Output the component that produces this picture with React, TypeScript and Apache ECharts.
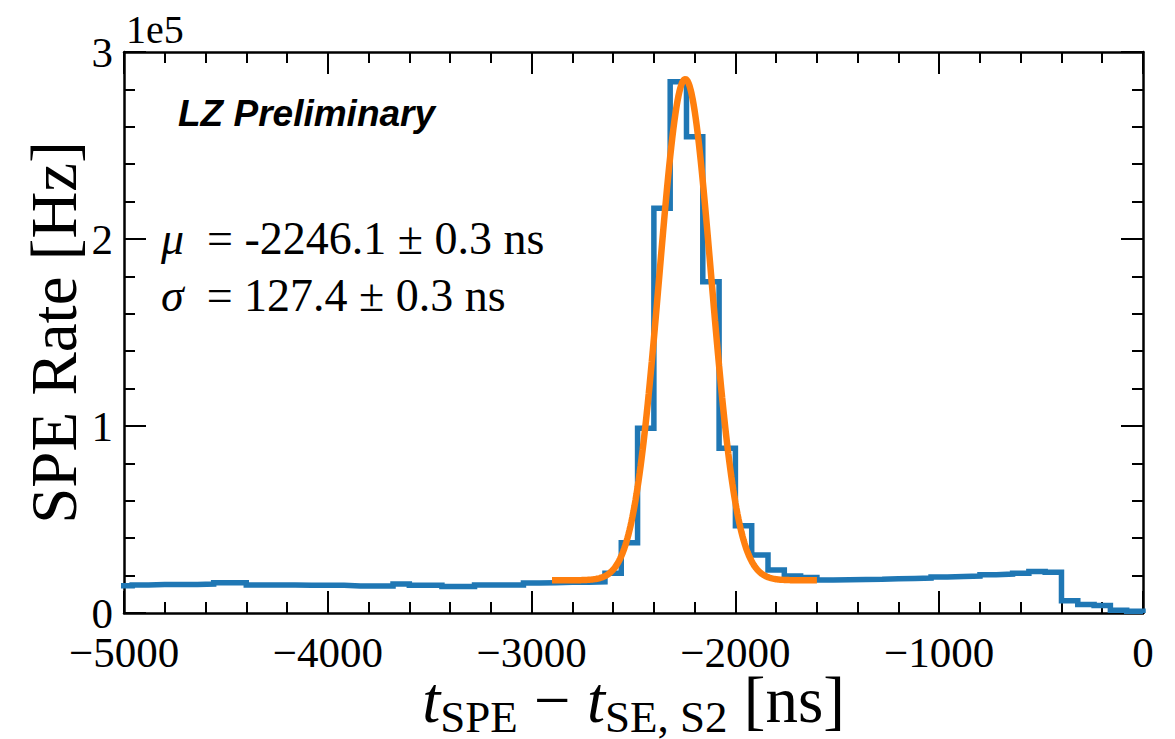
import React, { useEffect, useRef } from "react";
import * as echarts from "echarts";

// Histogram: bins of 80 ns starting at -5040 ns (rates in Hz)
const BIN_START = -5040;
const BIN_WIDTH = 80;
const rates = [
  14600, 15000, 15300, 15300, 15300, 15500, 16200, 16200, 15000, 15000,
  15000, 14800, 14800, 14800, 14500, 14500, 14500, 15500, 14800, 14800,
  14200, 14200, 15000, 15000, 15000, 16000, 16200, 16500, 16500,
  16700, 21200, 37600, 98800, 216400, 284100, 254700, 177200, 88100, 46700,
  31000, 23000, 19800, 19000,
  17700, 17800, 17900, 18000, 18300, 18500, 18700, 19200, 19500, 19800,
  20500, 20800, 21200, 22200, 21800,
  6500, 4500, 4000, 1500, 1000,
];

// Gaussian fit parameters
const MU = -2246.1;
const SIGMA = 127.4;
const AMP = 268000;
const OFFSET = 17500;
const FIT_FROM = -2900;
const FIT_TO = -1600;
const FIT_STEP = 5;

const X_MIN = -5000;
const X_MAX = 0;
const X_INTERVAL = 1000;
const Y_MIN = 0;
const Y_MAX = 300000;
const Y_INTERVAL = 100000;

const SERIF = "'Liberation Serif', 'Times New Roman', serif";
const NB = "\u00a0";

function histPoints(): number[][] {
  const pts: number[][] = [];
  rates.forEach((r, i) => {
    const x0 = BIN_START + i * BIN_WIDTH;
    pts.push([x0, r], [x0 + BIN_WIDTH, r]);
  });
  pts.push([BIN_START + rates.length * BIN_WIDTH, 0]);
  return pts;
}

function fitPoints(): number[][] {
  const pts: number[][] = [];
  for (let x = FIT_FROM; x <= FIT_TO + 1e-9; x += FIT_STEP) {
    const y = AMP * Math.exp(-((x - MU) ** 2) / (2 * SIGMA * SIGMA)) + OFFSET;
    pts.push([x, y]);
  }
  return pts;
}

const tickStyle = { color: "#000", width: 2 };

function makeXAxis(position: "bottom" | "top", showLabel: boolean): any {
  return {
    type: "value",
    min: X_MIN,
    max: X_MAX,
    interval: X_INTERVAL,
    position,
    axisLine: { onZero: false, lineStyle: { color: "#000", width: 2.5 } },
    axisTick: { inside: true, length: 22, lineStyle: tickStyle },
    minorTick: { show: true, splitNumber: 5, length: 11, lineStyle: tickStyle },
    splitLine: { show: false },
    minorSplitLine: { show: false },
    axisLabel: {
      show: showLabel,
      fontSize: 43,
      lineHeight: 43,
      fontFamily: SERIF,
      color: "#000",
      margin: 18,
      formatter: (v: number) => (v < 0 ? "\u2212" + Math.abs(v) : String(v)),
    },
  };
}

function makeYAxis(position: "left" | "right", showLabel: boolean): any {
  return {
    type: "value",
    min: Y_MIN,
    max: Y_MAX,
    interval: Y_INTERVAL,
    position,
    axisLine: { onZero: false, lineStyle: { color: "#000", width: 2.5 } },
    axisTick: { inside: true, length: 22, lineStyle: tickStyle },
    minorTick: { show: true, splitNumber: 5, length: 11, lineStyle: tickStyle },
    splitLine: { show: false },
    minorSplitLine: { show: false },
    axisLabel: {
      show: showLabel,
      fontSize: 43,
      lineHeight: 30,
      fontFamily: SERIF,
      color: "#000",
      margin: 11,
      formatter: (v: number) => String(v / 1e5),
    },
  };
}

export default function App() {
  const ref = useRef<HTMLDivElement>(null);

  useEffect(() => {
    if (!ref.current) return;
    const chart = echarts.init(ref.current, undefined, { renderer: "svg" });

    const xBottom = makeXAxis("bottom", true);
    xBottom.name = "{it|t}{sub|SPE}{op| \u2212 }{it|t}{sub|SE, S2}{op| [ns]}";
    xBottom.nameLocation = "middle";
    xBottom.nameGap = 54;
    xBottom.nameMoveOverlap = false;
    xBottom.nameTextStyle = {
      fontFamily: SERIF,
      fontSize: 65,
      color: "#000",
      rich: {
        it: { fontFamily: SERIF, fontSize: 65, lineHeight: 50, fontStyle: "italic", color: "#000", verticalAlign: "top" },
        sub: { fontFamily: SERIF, fontSize: 45, lineHeight: 34, padding: [27, 0, 0, 0], color: "#000", verticalAlign: "top" },
        op: { fontFamily: SERIF, fontSize: 65, lineHeight: 50, color: "#000", verticalAlign: "top" },
      },
    };

    const yLeft = makeYAxis("left", true);
    yLeft.name = "SPE Rate [Hz]";
    yLeft.nameLocation = "middle";
    yLeft.nameRotate = 90;
    yLeft.nameGap = 38;
    yLeft.nameMoveOverlap = false;
    yLeft.nameTextStyle = { fontFamily: SERIF, fontSize: 65, color: "#000" };

    const statStyle = (text: string) => ({
      text,
      fontFamily: SERIF,
      fontSize: 46,
      fill: "#000",
      align: "left",
      verticalAlign: "middle",
      rich: { i: { fontFamily: SERIF, fontSize: 46, fontStyle: "italic", fill: "#000" } },
    });

    chart.setOption({
      animation: false,
      backgroundColor: "#fff",
      grid: {
        left: 124,
        top: 52,
        right: 32,
        bottom: 126,
        containLabel: false,
        outerBoundsMode: "none",
      },
      xAxis: [xBottom, makeXAxis("top", false)],
      yAxis: [yLeft, makeYAxis("right", false)],
      series: [
        {
          type: "line",
          xAxisIndex: 0,
          yAxisIndex: 0,
          data: histPoints(),
          showSymbol: false,
          clip: true,
          lineStyle: { color: "#1f77b4", width: 5.5, join: "miter", cap: "butt" },
          z: 3,
        },
        {
          type: "line",
          xAxisIndex: 0,
          yAxisIndex: 0,
          data: fitPoints(),
          showSymbol: false,
          clip: true,
          lineStyle: { color: "#ff7f0e", width: 6.5, cap: "butt" },
          z: 4,
        },
      ],
      graphic: [
        {
          type: "text",
          x: 126,
          y: 29,
          style: {
            text: "1e5",
            fontFamily: SERIF,
            fontSize: 40,
            fill: "#000",
            align: "left",
            verticalAlign: "middle",
          },
        },
        {
          type: "text",
          x: 178,
          y: 113,
          style: {
            text: "LZ Preliminary",
            fontFamily: "'Liberation Sans', Arial, sans-serif",
            fontSize: 37,
            fontWeight: "bold",
            fontStyle: "italic",
            fill: "#000",
            align: "left",
            verticalAlign: "middle",
          },
        },
        {
          type: "text",
          x: 161,
          y: 238,
          style: statStyle("{i|\u03bc}" + NB + NB + "= -2246.1 \u00b1 0.3 ns"),
        },
        {
          type: "text",
          x: 161,
          y: 295,
          style: statStyle("{i|\u03c3}" + NB + NB + "= 127.4 \u00b1 0.3 ns"),
        },
      ],
    });

    return () => chart.dispose();
  }, []);

  return (
    <div
      ref={ref}
      style={{ position: "fixed", left: 0, top: 0, width: 1175, height: 739, background: "#fff" }}
    />
  );
}
